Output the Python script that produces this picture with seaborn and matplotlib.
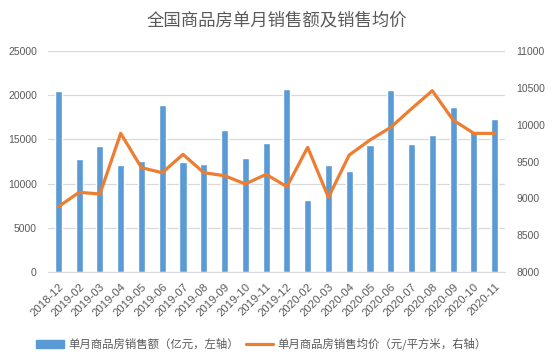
import numpy as np
import pandas as pd
import matplotlib
matplotlib.use('Agg')
import matplotlib.pyplot as plt
import seaborn as sns
from matplotlib.patches import Patch
from matplotlib.lines import Line2D

# 月份
months = ['2018-12', '2019-02', '2019-03', '2019-04', '2019-05', '2019-06', '2019-07',
          '2019-08', '2019-09', '2019-10', '2019-11', '2019-12', '2020-02', '2020-03',
          '2020-04', '2020-05', '2020-06', '2020-07', '2020-08', '2020-09', '2020-10',
          '2020-11']
# 单月商品房销售额（亿元）
sales = [20500, 12780, 14250, 12100, 12550, 18900, 12440, 12220, 16060, 12900, 14590,
         20700, 8140, 12100, 11420, 14370, 20590, 14480, 15500, 18660, 15950, 17300]
# 单月商品房销售均价（元/平方米）
price = [8886, 9082, 9059, 9882, 9416, 9348, 9597, 9348, 9307, 9195, 9326,
         9158, 9692, 9014, 9588, 9792, 9964, 10217, 10461, 10063, 9882, 9882]

label_bar = '单月商品房销售额（亿元，左轴）'
label_line = '单月商品房销售均价（元/平方米，右轴）'
titulo = '全国商品房单月销售额及销售均价'

blue = '#5B9BD5'
orange = '#ED7D31'
grey = '#595959'

sns.set_style('white')
plt.rcParams['font.family'] = ['Liberation Sans', 'Noto Sans CJK SC', 'DejaVu Sans']

df = pd.DataFrame({'mes': months, 'vendas': sales, 'preco': price})

fig = plt.figure(figsize=(5.54, 3.64), dpi=100)
ax = fig.add_axes([0.0866, 0.2527, 0.8250, 0.6072])

sns.barplot(data=df, x='mes', y='vendas', color=blue, width=0.34, saturation=1, ax=ax)
ax.set_ylim(0, 25000)
ax.set_yticks(range(0, 25001, 5000))
ax.set_xlim(-0.5, len(months) - 0.5)
ax.yaxis.grid(True, color='#D9D9D9', linewidth=0.9)
ax.set_axisbelow(True)
ax.set_xlabel('')
ax.set_ylabel('')
for s in ['top', 'right', 'left']:
    ax.spines[s].set_visible(False)
ax.spines['bottom'].set_color('#D9D9D9')
ax.tick_params(axis='y', length=0, labelsize=7.5, colors=grey, pad=8)
ax.tick_params(axis='x', length=0, labelsize=8.2, colors=grey, pad=7)
plt.setp(ax.get_xticklabels(), rotation=45, ha='right', rotation_mode='anchor')

ax2 = ax.twinx()
sns.lineplot(x=np.arange(len(months)), y=df['preco'], color=orange, linewidth=2.3, ax=ax2)
ax2.set_ylim(8000, 11000)
ax2.set_yticks(range(8000, 11001, 500))
ax2.set_ylabel('')
for s in ['top', 'right', 'left', 'bottom']:
    ax2.spines[s].set_visible(False)
ax2.tick_params(axis='y', length=0, labelsize=7.5, colors=grey, pad=8)

fig.suptitle(titulo, x=0.5, y=0.968, fontsize=12.5, color=grey, family=['Noto Sans CJK SC'])

handles = [Patch(facecolor=blue, edgecolor=blue),
           Line2D([0], [0], color=orange, linewidth=2.3)]
fig.legend(handles, [label_bar, label_line], loc='center', bbox_to_anchor=(0.472, 0.055),
           ncol=2, frameon=False, labelcolor=grey,
           handlelength=2.4, handletextpad=0.4, columnspacing=0.6,
           prop={'family': ['Noto Sans CJK SC'], 'size': 8.2})

plt.savefig('out.png', dpi=100)
